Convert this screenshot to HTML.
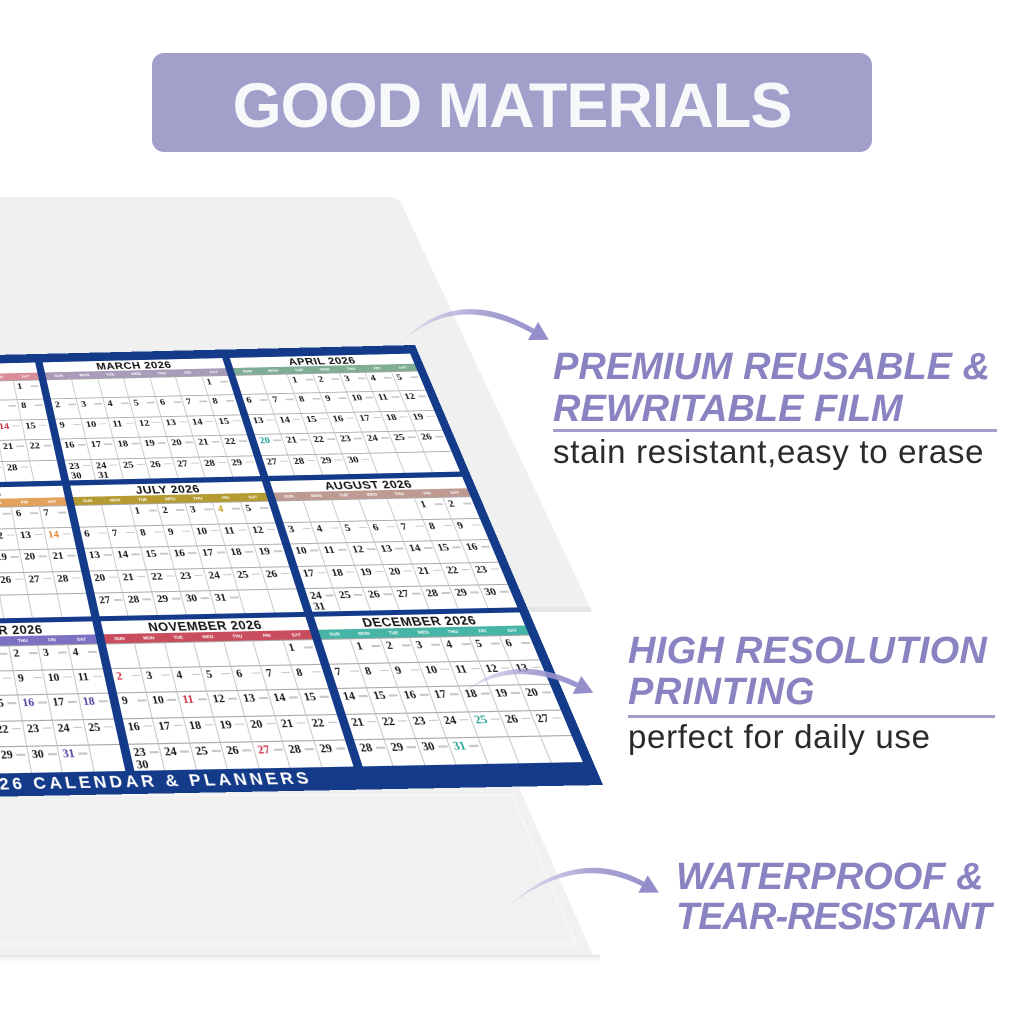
<!DOCTYPE html>
<html>
<head>
<meta charset="utf-8">
<style>
*{box-sizing:border-box;margin:0;padding:0}
body{width:1024px;height:1024px;overflow:hidden;background:#fff;position:relative;font-family:"Liberation Sans",sans-serif}
.abs{position:absolute}
#hdr{left:152px;top:53px;width:720px;height:99px;border-radius:12px;background:#a2a0cb}
#hdrt{left:152px;top:75px;width:720px;text-align:center;font:bold 63px/63px "Liberation Sans",sans-serif;letter-spacing:-1px;color:#f6f8fa;white-space:nowrap}
.hd{position:absolute;font:italic bold 38px/38px "Liberation Sans",sans-serif;color:#8983c1;white-space:nowrap}
.sub{position:absolute;font:33px/33px "Liberation Sans",sans-serif;color:#2b2b2b;letter-spacing:0.7px;white-space:nowrap}
.ln{position:absolute;height:3px;background:#a19ecb}
#cal{position:absolute;left:0;top:0;width:605px;height:466px;background:#143a8a;transform-origin:0 0;
transform:matrix3d(0.927549,-0.025497,0,-0.0000096148,0.154745,0.618019,0,-0.00040853,0,0,1,0,-148.581,358.418,0,1)}
.b{position:absolute;width:192px;background:#fff;overflow:hidden}
.t{height:13px;text-align:center;font:900 12px/14px "Liberation Sans",sans-serif;letter-spacing:.5px;color:#111;white-space:nowrap}
.h{height:9px;display:flex}
.h span{flex:1;color:#fff;font:bold 4.5px/9px "Liberation Sans",sans-serif;text-align:center}
.g{position:absolute;top:22px;left:0;right:0;bottom:0;display:grid;grid-template-columns:repeat(7,1fr);grid-template-rows:repeat(5,1fr)}
.g i{position:relative;border-right:1px solid #c9c9c9;border-top:1px solid #a8a8a8;font:bold 10.5px/11px "Liberation Serif",serif;color:#151515;padding:2px 0 0 3px;overflow:hidden}
.g i:nth-child(7n){border-right:none}
.g i:not(:empty)::after{content:"";position:absolute;left:17px;top:6px;width:8px;height:1.5px;background:#c8c8c8}
.g i.r{color:#c92a3e}.g i.p{color:#4b3fa0}.g i.c{color:#1e9e8e}.g i.o{color:#e0842a}.g i.y{color:#c8a020}
#band{position:absolute;left:61px;top:446px;height:20px;font:bold 15px/20px "Liberation Sans",sans-serif;letter-spacing:3px;color:#fff;white-space:nowrap}
</style>
</head>
<body>

<svg class="abs" style="left:0;top:0" width="1024" height="1024" viewBox="0 0 1024 1024">
  <defs>
    <linearGradient id="sh" x1="0" y1="0" x2="0" y2="1">
      <stop offset="0" stop-color="#e4e4e4"/><stop offset="1" stop-color="#ffffff" stop-opacity="0"/>
    </linearGradient>
  </defs>
  <path d="M0,197 L388,197 Q398,197 402,205 L590,607 L0,607 Z" fill="#f0f0f0"/>
  <path d="M0,607 L590,607 L592,612 L0,612 Z" fill="#e6e6e6"/>
  <path d="M0,785 L518,785 L593,955 L0,955 Z" fill="#f1f1f1"/>
  <path d="M0,795 L512,795 L576,944 L0,944" fill="none" stroke="#f7f7f7" stroke-width="2"/>
  <rect x="0" y="955" width="600" height="10" fill="url(#sh)"/>
</svg>

<div id="hdr" class="abs"></div>
<div id="hdrt" class="abs">GOOD MATERIALS</div>

<div id="cal">
  <div class="b" style="left:4px;top:11px;height:144px">
    <div class="t">FEBRUARY 2026</div>
    <div class="h" style="background:#d98d98"><span>SUN</span><span>MON</span><span>TUE</span><span>WED</span><span>THU</span><span>FRI</span><span>SAT</span></div>
    <div class="g"><i></i><i></i><i></i><i></i><i></i><i></i><i>1</i><i>2</i><i>3</i><i>4</i><i>5</i><i>6</i><i>7</i><i>8</i><i>9</i><i>10</i><i>11</i><i>12</i><i>13</i><i class="r">14</i><i>15</i><i>16</i><i>17</i><i>18</i><i>19</i><i>20</i><i>21</i><i>22</i><i>23</i><i>24</i><i>25</i><i>26</i><i>27</i><i>28</i><i></i></div>
  </div>
  <div class="b" style="left:204px;top:11px;height:144px">
    <div class="t">MARCH 2026</div>
    <div class="h" style="background:#a89cb8"><span>SUN</span><span>MON</span><span>TUE</span><span>WED</span><span>THU</span><span>FRI</span><span>SAT</span></div>
    <div class="g"><i></i><i></i><i></i><i></i><i></i><i></i><i>1</i><i>2</i><i>3</i><i>4</i><i>5</i><i>6</i><i>7</i><i>8</i><i>9</i><i>10</i><i>11</i><i>12</i><i>13</i><i>14</i><i>15</i><i>16</i><i>17</i><i>18</i><i>19</i><i>20</i><i>21</i><i>22</i><i>23<br>30</i><i>24<br>31</i><i>25</i><i>26</i><i>27</i><i>28</i><i>29</i></div>
  </div>
  <div class="b" style="left:404px;top:11px;height:144px">
    <div class="t">APRIL 2026</div>
    <div class="h" style="background:#80ad96"><span>SUN</span><span>MON</span><span>TUE</span><span>WED</span><span>THU</span><span>FRI</span><span>SAT</span></div>
    <div class="g"><i></i><i></i><i>1</i><i>2</i><i>3</i><i>4</i><i>5</i><i>6</i><i>7</i><i>8</i><i>9</i><i>10</i><i>11</i><i>12</i><i>13</i><i>14</i><i>15</i><i>16</i><i>17</i><i>18</i><i>19</i><i class="c">20</i><i>21</i><i>22</i><i>23</i><i>24</i><i>25</i><i>26</i><i>27</i><i>28</i><i>29</i><i>30</i><i></i><i></i><i></i></div>
  </div>

  <div class="b" style="left:4px;top:161px;height:140px">
    <div class="t">JUNE 2026</div>
    <div class="h" style="background:#e2a25e"><span>SUN</span><span>MON</span><span>TUE</span><span>WED</span><span>THU</span><span>FRI</span><span>SAT</span></div>
    <div class="g"><i>1</i><i>2</i><i>3</i><i>4</i><i>5</i><i>6</i><i>7</i><i>8</i><i>9</i><i>10</i><i>11</i><i>12</i><i>13</i><i class="o">14</i><i>15</i><i>16</i><i>17</i><i>18</i><i>19</i><i>20</i><i>21</i><i>22</i><i>23</i><i>24</i><i>25</i><i>26</i><i>27</i><i>28</i><i>29</i><i>30</i><i></i><i></i><i></i><i></i><i></i></div>
  </div>
  <div class="b" style="left:204px;top:161px;height:140px">
    <div class="t">JULY 2026</div>
    <div class="h" style="background:#b69a32"><span>SUN</span><span>MON</span><span>TUE</span><span>WED</span><span>THU</span><span>FRI</span><span>SAT</span></div>
    <div class="g"><i></i><i></i><i>1</i><i>2</i><i>3</i><i class="y">4</i><i>5</i><i>6</i><i>7</i><i>8</i><i>9</i><i>10</i><i>11</i><i>12</i><i>13</i><i>14</i><i>15</i><i>16</i><i>17</i><i>18</i><i>19</i><i>20</i><i>21</i><i>22</i><i>23</i><i>24</i><i>25</i><i>26</i><i>27</i><i>28</i><i>29</i><i>30</i><i>31</i><i></i><i></i></div>
  </div>
  <div class="b" style="left:404px;top:161px;height:140px">
    <div class="t">AUGUST 2026</div>
    <div class="h" style="background:#bf9a92"><span>SUN</span><span>MON</span><span>TUE</span><span>WED</span><span>THU</span><span>FRI</span><span>SAT</span></div>
    <div class="g"><i></i><i></i><i></i><i></i><i></i><i>1</i><i>2</i><i>3</i><i>4</i><i>5</i><i>6</i><i>7</i><i>8</i><i>9</i><i>10</i><i>11</i><i>12</i><i>13</i><i>14</i><i>15</i><i>16</i><i>17</i><i>18</i><i>19</i><i>20</i><i>21</i><i>22</i><i>23</i><i>24<br>31</i><i>25</i><i>26</i><i>27</i><i>28</i><i>29</i><i>30</i></div>
  </div>

  <div class="b" style="left:4px;top:306px;height:140px">
    <div class="t">OCTOBER 2026</div>
    <div class="h" style="background:#7c72c4"><span>SUN</span><span>MON</span><span>TUE</span><span>WED</span><span>THU</span><span>FRI</span><span>SAT</span></div>
    <div class="g"><i></i><i></i><i></i><i>1</i><i>2</i><i>3</i><i>4</i><i>5</i><i>6</i><i>7</i><i>8</i><i>9</i><i>10</i><i>11</i><i>12</i><i>13</i><i>14</i><i>15</i><i class="p">16</i><i>17</i><i class="p">18</i><i>19</i><i>20</i><i>21</i><i>22</i><i>23</i><i>24</i><i>25</i><i>26</i><i>27</i><i>28</i><i>29</i><i>30</i><i class="p">31</i><i></i></div>
  </div>
  <div class="b" style="left:204px;top:306px;height:140px">
    <div class="t">NOVEMBER 2026</div>
    <div class="h" style="background:#c94d5c"><span>SUN</span><span>MON</span><span>TUE</span><span>WED</span><span>THU</span><span>FRI</span><span>SAT</span></div>
    <div class="g"><i></i><i></i><i></i><i></i><i></i><i></i><i>1</i><i class="r">2</i><i>3</i><i>4</i><i>5</i><i>6</i><i>7</i><i>8</i><i>9</i><i>10</i><i class="r">11</i><i>12</i><i>13</i><i>14</i><i>15</i><i>16</i><i>17</i><i>18</i><i>19</i><i>20</i><i>21</i><i>22</i><i>23<br>30</i><i>24</i><i>25</i><i>26</i><i class="r">27</i><i>28</i><i>29</i></div>
  </div>
  <div class="b" style="left:404px;top:306px;height:140px">
    <div class="t">DECEMBER 2026</div>
    <div class="h" style="background:#46b5a6"><span>SUN</span><span>MON</span><span>TUE</span><span>WED</span><span>THU</span><span>FRI</span><span>SAT</span></div>
    <div class="g"><i></i><i>1</i><i>2</i><i>3</i><i>4</i><i>5</i><i>6</i><i>7</i><i>8</i><i>9</i><i>10</i><i>11</i><i>12</i><i>13</i><i>14</i><i>15</i><i>16</i><i>17</i><i>18</i><i>19</i><i>20</i><i>21</i><i>22</i><i>23</i><i>24</i><i class="c">25</i><i>26</i><i>27</i><i>28</i><i>29</i><i>30</i><i class="c">31</i><i></i><i></i><i></i></div>
  </div>

  <div id="band">2026 CALENDAR &amp; PLANNERS</div>
</div>

<svg class="abs" style="left:0;top:0" width="1024" height="1024" viewBox="0 0 1024 1024">
  <defs>
    <linearGradient id="a1" gradientUnits="userSpaceOnUse" x1="400" y1="0" x2="548" y2="0">
      <stop offset="0" stop-color="#a09bd2" stop-opacity="0.15"/><stop offset="0.55" stop-color="#9a95cd" stop-opacity="0.85"/><stop offset="1" stop-color="#948fca"/>
    </linearGradient>
    <linearGradient id="a2" gradientUnits="userSpaceOnUse" x1="462" y1="0" x2="593" y2="0">
      <stop offset="0" stop-color="#a09bd2" stop-opacity="0.15"/><stop offset="0.55" stop-color="#9a95cd" stop-opacity="0.85"/><stop offset="1" stop-color="#948fca"/>
    </linearGradient>
    <linearGradient id="a3" gradientUnits="userSpaceOnUse" x1="506" y1="0" x2="658" y2="0">
      <stop offset="0" stop-color="#a09bd2" stop-opacity="0.15"/><stop offset="0.55" stop-color="#9a95cd" stop-opacity="0.85"/><stop offset="1" stop-color="#948fca"/>
    </linearGradient>
  </defs>
  <path d="M400,344 Q455,283 534.2,328.8 L531.8,333.2 Q455,291 400,344 Z" fill="url(#a1)"/>
  <polygon points="548.7,339.8 527.9,340.1 538.1,321.9" fill="#948fca"/>

  <path d="M462,694 Q511,650 578.1,682.7 L575.9,687.3 Q511,658 462,694 Z" fill="url(#a2)"/>
  <polygon points="593.3,692.7 572.75,694.05 581.25,675.95" fill="#948fca"/>

  <path d="M506,908 Q575.5,844 644.2,881.8 L641.8,886.2 Q575.5,852 506,908 Z" fill="url(#a3)"/>
  <polygon points="658.8,892.5 638.3,892.8 647.7,875.2" fill="#948fca"/>
</svg>

<div class="hd" style="left:553px;top:348px">PREMIUM REUSABLE &amp;</div>
<div class="hd" style="left:553px;top:390px">REWRITABLE FILM</div>
<div class="ln" style="left:553px;top:429px;width:444px"></div>
<div class="sub" style="left:553px;top:435px">stain resistant,easy to erase</div>

<div class="hd" style="left:628px;top:632px;letter-spacing:0.3px">HIGH RESOLUTION</div>
<div class="hd" style="left:628px;top:673px;letter-spacing:0.7px">PRINTING</div>
<div class="ln" style="left:628px;top:715px;width:367px"></div>
<div class="sub" style="left:628px;top:720px">perfect for daily use</div>

<div class="hd" style="left:676px;top:858px">WATERPROOF &amp;</div>
<div class="hd" style="left:676px;top:898px;letter-spacing:-1px">TEAR-RESISTANT</div>

</body>
</html>
